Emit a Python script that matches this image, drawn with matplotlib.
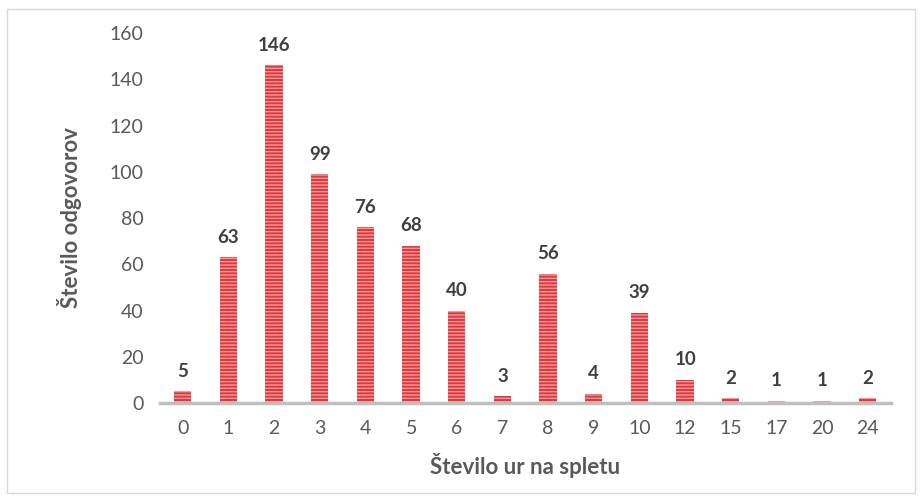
import matplotlib.pyplot as plt
from matplotlib.patches import Rectangle

plt.rcParams['font.family'] = ['Lato', 'DejaVu Sans']
plt.rcParams['hatch.linewidth'] = 1.0

ure = ['0', '1', '2', '3', '4', '5', '6', '7', '8', '9', '10', '12', '15', '17', '20', '24']
odgovori = [5, 63, 146, 99, 76, 68, 40, 3, 56, 4, 39, 10, 2, 1, 1, 2]

fig = plt.figure(figsize=(9.22, 5), dpi=100)
fig.patches.append(Rectangle((0.008, 0.015), 0.984, 0.968, transform=fig.transFigure,
                             fill=False, edgecolor='#d9d9d9', linewidth=1))
ax = fig.add_axes([0.1735, 0.194, 0.7925, 0.74])

x = range(len(ure))
bars = ax.bar(x, odgovori, width=0.38, color='#e0383d', edgecolor='#f59a9c',
              hatch='-----', linewidth=0)

for i, v in enumerate(odgovori):
    ax.text(i, v + 5, str(v), ha='center', va='bottom', fontsize=13.5,
            fontweight='bold', color='#404040')

ax.set_xlim(-0.5, len(ure) - 0.5)
ax.set_ylim(0, 160)
ax.set_yticks(range(0, 161, 20))
ax.set_xticks(list(x))
ax.set_xticklabels(ure)
ax.tick_params(length=0, labelsize=14, colors='#595959', pad=12)
for s in ['top', 'right', 'left']:
    ax.spines[s].set_visible(False)
ax.spines['bottom'].set_color('#bfbfbf')
ax.spines['bottom'].set_linewidth(2.5)

ax.set_xlabel('Število ur na spletu', fontsize=16, fontweight='bold', color='#595959', labelpad=12)
ax.set_ylabel('Število odgovorov', fontsize=16, fontweight='bold', color='#595959', labelpad=20)

fig.savefig('out.png', dpi=100)
